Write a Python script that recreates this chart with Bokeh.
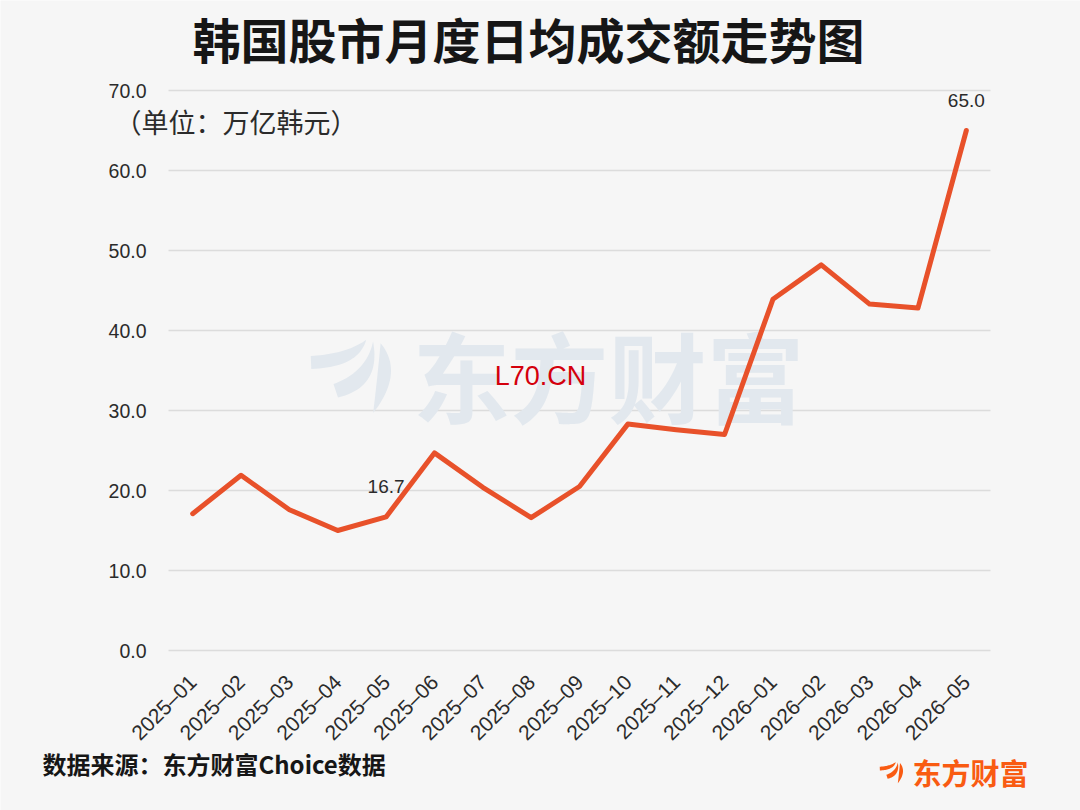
import numpy as np
from bokeh.plotting import figure
from bokeh.models import (Range1d, FixedTicker, NumeralTickFormatter,
                          CustomJSTickFormatter, Label, PolyAnnotation)
from bokeh.core.properties import value
from bokeh.embed import file_html
from bokeh.resources import INLINE

# Monthly average daily turnover, KRW trillion
months = ["2025-01", "2025-02", "2025-03", "2025-04", "2025-05", "2025-06",
          "2025-07", "2025-08", "2025-09", "2025-10", "2025-11", "2025-12",
          "2026-01", "2026-02", "2026-03", "2026-04", "2026-05"]
turnover = [17.1, 21.9, 17.6, 15.0, 16.7, 24.7, 20.4, 16.6, 20.5, 28.3,
            27.6, 27.0, 43.9, 48.2, 43.3, 42.8, 65.0]
y_ticks = [0, 10, 20, 30, 40, 50, 60, 70]
callout_months = ["2025-05", "2026-05"]
month_labels = [m.replace("-", "\u2013") for m in months]

title_text = "韩国股市月度日均成交额走势图"
unit_text = "（单位：万亿韩元）"
source_text = "数据来源：东方财富Choice数据"
brand_text = "东方财富"

BG = "#f6f6f6"
LINE = "#e8512a"
DARK = "#2b2b2b"
ORANGE = "#f95b12"
WATER = "#e2e8ee"
CJK = "Noto Sans CJK SC"
LATIN = "Liberation Sans"

# page geometry (px): the plotting area sits inside a 1080x810 canvas
W, H = 1080, 810
AREA_L, AREA_R, AREA_T, AREA_B = 168, 990, 90, 650
Y_MIN, Y_MAX = 0, 70

n = len(months)
x_pos = np.arange(n)                       # one slot per month
px_per_x = (AREA_R - AREA_L) / n
px_per_y = (AREA_B - AREA_T) / (Y_MAX - Y_MIN)
x_start = -0.5 - AREA_L / px_per_x
x_end = x_start + W / px_per_x
y_start = Y_MIN - (H - AREA_B) / px_per_y
y_end = y_start + H / px_per_y

p = figure(width=W, height=H, output_backend="svg", toolbar_location=None, title=None,
           x_range=Range1d(x_start, x_end), y_range=Range1d(y_start, y_end),
           min_border=0)
p.background_fill_color = BG
p.border_fill_color = BG
p.outline_line_color = None
p.xgrid.visible = False
p.ygrid.visible = False

# axes pinned to the edges of the plotting area
p.xaxis.fixed_location = Y_MIN
p.yaxis.fixed_location = -0.5
p.yaxis.ticker = FixedTicker(ticks=y_ticks)
p.yaxis.formatter = NumeralTickFormatter(format="0.0")
p.xaxis.ticker = FixedTicker(ticks=list(x_pos))
p.xaxis.formatter = CustomJSTickFormatter(args=dict(labels=month_labels),
                                          code="return labels[Math.round(tick)] ?? ''")
for ax in (p.xaxis, p.yaxis):
    ax.axis_line_color = None
    ax.major_tick_line_color = None
    ax.minor_tick_line_color = None
    ax.major_label_text_color = DARK
    ax.major_label_text_font = LATIN
p.yaxis.major_label_text_font_size = "19.5px"
p.yaxis.major_label_standoff = 16
p.xaxis.major_label_text_font_size = "21px"
p.xaxis.major_label_orientation = np.pi / 4
p.xaxis.major_label_standoff = 22

# horizontal gridlines across the plotting area
p.segment(x0=[-0.5] * len(y_ticks), x1=[n - 0.5] * len(y_ticks),
          y0=y_ticks, y1=y_ticks, line_color="#dcdcdc", line_width=1.6,
          level="underlay")

# three-feather brand emblem, outlined with quadratic curves
def quad(p0, c, p1, k=24):
    t = np.linspace(0, 1, k)[:, None]
    a, b, d = map(np.array, (p0, c, p1))
    return (1 - t) ** 2 * a + 2 * (1 - t) * t * b + t ** 2 * d

def feather(p0, c1, p1, c2, p2, shrink=0.9):
    pts = np.vstack([quad(p0, c1, p1), quad(p1, c2, p2)[1:]])
    c = pts.mean(axis=0)
    return c + shrink * (pts - c)

feathers = [
    feather((0.7, 21.7), (40.7, 19.3), (62.3, 3.7), (54.0, 34.3), (1.3, 36.0)),
    feather((24.0, 51.0), (60.7, 37.7), (68.0, 3.7), (77.3, 54.3), (29.0, 66.0)),
    feather((74.0, 5.0), (100.7, 37.7), (65.7, 82.7), (70.7, 41.0), (74.0, 5.0)),
]

def emblem(ox, oy, s, color, level):
    for pts in feathers:
        p.add_layout(PolyAnnotation(
            xs=list(ox + s * pts[:, 0]), ys=list(oy + s * pts[:, 1]),
            xs_units="canvas", ys_units="canvas",
            fill_color=color, fill_alpha=1.0, line_color=None, level=level))

def note(x, y, text, font, size, color, bold=False, align="left", level="annotation"):
    p.add_layout(Label(x=x, y=y, x_units="canvas", y_units="canvas", text=text,
                       text_font=font, text_font_size=f"{size}px",
                       text_font_style="bold" if bold else "normal",
                       text_color=color, text_align=align, text_baseline="middle",
                       level=level))

# brand watermark behind the chart
emblem(306, 334, 1.0, WATER, "underlay")
note(412, 372, brand_text, CJK, 98, WATER, bold=True, level="underlay")
note(540, 375, "L70.CN", LATIN, 27, "#d4000c", align="center")

# main series
p.line(x=x_pos, y=turnover, line_color=LINE, line_width=5,
       line_join="round", line_cap="round")

callout_idx = [months.index(m) for m in callout_months]
callout_vals = [turnover[i] for i in callout_idx]
p.text(x=callout_idx, y=callout_vals, text=[f"{v:.1f}" for v in callout_vals],
       text_font=value(LATIN), text_font_size="19px", text_color=DARK,
       text_align="center", text_baseline="middle", y_offset=-30)

# titles and notes
note(528, 37, title_text, CJK, 48, "#161616", bold=True, align="center")
note(114, 121, unit_text, CJK, 27, DARK)
note(42, 763, source_text, CJK, 24, "#161616", bold=True)
emblem(878, 760, 0.29, ORANGE, "annotation")
note(912, 771, brand_text, CJK, 29, ORANGE, bold=True)

open("out.html", "w").write(file_html(p, INLINE))
